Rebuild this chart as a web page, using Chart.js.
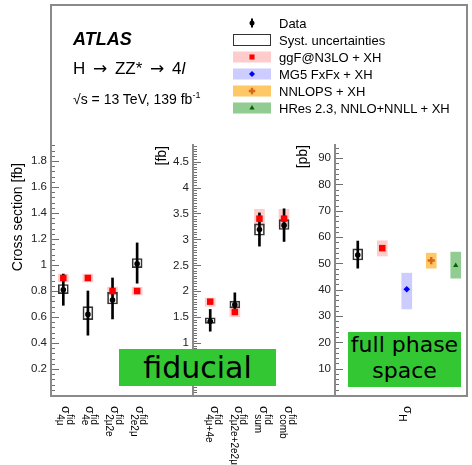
<!DOCTYPE html>
<html>
<head>
<meta charset="utf-8">
<title>H to ZZ* to 4l cross sections</title>
<script src="https://cdn.jsdelivr.net/npm/chart.js@4.4.0/dist/chart.umd.min.js"></script>
<style>
  body { margin: 0; background: #fff; }
  #wrap { position: relative; width: 472px; height: 465px; overflow: hidden; font-family: "Liberation Sans", Arial, sans-serif; }
  #wrap canvas { position: absolute; top: 0; }
  .frame { position: absolute; left: 50px; top: 4px; width: 418px; height: 393px; box-sizing: border-box; border: 2px solid #8a8a8a; }
  .txt { position: absolute; white-space: nowrap; color: #000; line-height: 1; }
  .arrow { font-family: "DejaVu Sans", sans-serif; margin: 0 3px; }
  .leg { font-size: 13px; left: 279px; }
  .tag { position: absolute; background: #34c734; color: #000; font-family: "DejaVu Sans", sans-serif; text-align: center; }
</style>
</head>
<body>
<div id="wrap">
  <div class="frame"></div>
  <canvas id="legendMarks" width="472" height="140" style="left:0;width:472px;height:140px"></canvas>
  <canvas id="panelChan" width="193" height="465" style="left:0;width:193px;height:465px"></canvas>
  <canvas id="panelSum" width="185" height="465" style="left:150px;width:185px;height:465px"></canvas>
  <canvas id="panelTotal" width="182" height="465" style="left:290px;width:182px;height:465px"></canvas>

  <div class="txt" style="left:73px;top:29px;font:italic bold 18px 'Liberation Sans', Arial, sans-serif">ATLAS</div>
  <div class="txt" style="left:73px;top:60px;font-size:17px">H <span class="arrow">→</span> ZZ* <span class="arrow">→</span> 4<i>l</i></div>
  <div class="txt" style="left:73px;top:92px;font-size:14px">√s = 13 TeV, 139 fb<span style="font-size:9px;position:relative;top:-6px">-1</span></div>
  <div id="legendText"></div>

  <div class="tag" style="left:119px;top:349px;width:157px;height:37px;font-size:30px;line-height:37px">fiducial</div>
  <div class="tag" style="left:348px;top:332px;width:113px;height:55px;font-size:22px;line-height:26px">full phase<br>space</div>
</div>

<script>
// Fiducial cross sections per decay channel [fb]
const chanLabels = ["4μ", "4e", "2μ2e", "2e2μ"];
const chanData = [0.81, 0.62, 0.73, 1.01];
const chanStatLo = [0.69, 0.46, 0.585, 0.86];
const chanStatHi = [0.93, 0.80, 0.90, 1.17];
const chanSystLo = [0.78, 0.58, 0.70, 0.98];
const chanSystHi = [0.85, 0.68, 0.79, 1.05];
const chanGgf = [0.90, 0.90, 0.80, 0.80];
const chanGgfLo = [0.87, 0.87, 0.77, 0.77];
const chanGgfHi = [0.93, 0.93, 0.83, 0.83];

// Combined fiducial cross sections [fb]
const sumLabels = ["4μ+4e", "2μ2e+2e2μ", "sum", "comb"];
const sumData = [1.42, 1.74, 3.19, 3.27];
const sumStatLo = [1.23, 1.58, 2.87, 2.96];
const sumStatHi = [1.65, 1.97, 3.51, 3.59];
const sumSystLo = [1.38, 1.68, 3.08, 3.19];
const sumSystHi = [1.49, 1.81, 3.30, 3.38];
const sumGgf = [1.80, 1.60, 3.40, 3.40];
const sumGgfLo = [1.71, 1.51, 3.24, 3.24];
const sumGgfHi = [1.87, 1.70, 3.58, 3.58];

// Total cross section [pb]
const totalLabel = "H";
const totalData = [53.2];
const totalStatLo = [48.2];
const totalStatHi = [58.5];
const totalSystLo = [51.3];
const totalSystHi = [55.5];
const modelNames = ["ggF@N3LO + XH", "MG5 FxFx + XH", "NNLOPS + XH", "HRes 2.3, NNLO+NNLL + XH"];
const modelTotal = [55.8, 40.2, 51.1, 49.2];
const modelTotalLo = [52.8, 32.7, 48.2, 44.4];
const modelTotalHi = [58.6, 46.3, 53.9, 54.3];

// Marker and band looks for each prediction
const modelStyles = [
  { band: "#ffcccc", color: "#ff0000", pointStyle: "rect", radius: 4.6, legendRadius: 3.6, line: 0 },
  { band: "#ccccff", color: "#0000ff", pointStyle: "rectRot", radius: 3.3, legendRadius: 3, line: 0 },
  { band: "#fdc865", color: "#d9661a", pointStyle: "cross", radius: 3.6, legendRadius: 3.2, line: 2.4 },
  { band: "#92cc92", color: "#006400", pointStyle: "triangle", radius: 3, legendRadius: 3, line: 0 }
];

Chart.defaults.font.family = "'Liberation Sans', Arial, sans-serif";

// inward ROOT style ticks on the y axis
const rootTicks = {
  id: "rootTicks",
  beforeDatasetsDraw(chart, args, opts) {
    const y = chart.scales.y, area = chart.chartArea, ctx = chart.ctx;
    ctx.save();
    ctx.strokeStyle = "#707070";
    ctx.lineWidth = 1;
    ctx.beginPath();
    const n = Math.floor(y.max / opts.minor + 1e-6);
    for (let i = 1; i <= n; i++) {
      const v = i * opts.minor;
      const r = v / opts.major;
      const major = Math.abs(r - Math.round(r)) < 1e-6;
      const py = Math.round(y.getPixelForValue(v)) + 0.5;
      ctx.moveTo(area.left + 1, py);
      ctx.lineTo(area.left + (major ? 8 : 4), py);
    }
    ctx.stroke();
    ctx.restore();
  }
};

// rotated sigma labels under each slot
const sigmaLabels = {
  id: "sigmaLabels",
  afterDraw(chart, args, opts) {
    const x = chart.scales.x, ctx = chart.ctx;
    opts.items.forEach((it) => {
      const px = x.getPixelForValue(it.x) + opts.shift;
      ctx.save();
      ctx.translate(px, 406);
      ctx.rotate(Math.PI / 2);
      ctx.fillStyle = "#000";
      ctx.textBaseline = "middle";
      ctx.font = "12.5px 'Liberation Sans', Arial, sans-serif";
      ctx.fillText("σ", 0, 0);
      const w = ctx.measureText("σ").width + 0.5;
      ctx.font = "10px 'Liberation Sans', Arial, sans-serif";
      if (it.sup) ctx.fillText(it.sup, w, -4);
      ctx.fillText(it.sub, w, 5.5);
      ctx.restore();
    });
  }
};

// y axis title, reading upwards, ending at the top
const axisTitle = {
  id: "axisTitle",
  afterDraw(chart, args, opts) {
    const ctx = chart.ctx;
    ctx.save();
    ctx.translate(opts.x, opts.y);
    ctx.rotate(-Math.PI / 2);
    ctx.font = "14px 'Liberation Sans', Arial, sans-serif";
    ctx.fillStyle = "#000";
    ctx.textAlign = "right";
    ctx.textBaseline = "middle";
    ctx.fillText(opts.text, 0, 0);
    ctx.restore();
  }
};

function rangeBars(xs, lo, hi, style) {
  return Object.assign({
    type: "bar",
    grouped: false,
    borderSkipped: false,
    data: xs.map((x, i) => ({ x: x, y: [lo[i], hi[i]] }))
  }, style);
}

function markers(xs, ys, style) {
  return Object.assign({
    type: "scatter",
    data: xs.map((x, i) => ({ x: x, y: ys[i] }))
  }, style);
}

const systStyle = { backgroundColor: "rgba(0,0,0,0)", borderColor: "#333", borderWidth: 1, barThickness: 10, order: 4 };
const statStyle = { backgroundColor: "#000", borderWidth: 0, barThickness: 2, order: 3 };
const dataStyle = { pointStyle: "circle", pointRadius: 2.8, pointBackgroundColor: "#000", pointBorderWidth: 0, order: 1 };

function measurement(xs, val, statLo, statHi, systLo, systHi) {
  return [
    rangeBars(xs, systLo, systHi, systStyle),
    rangeBars(xs, statLo, statHi, statStyle),
    markers(xs, val, dataStyle)
  ];
}

function prediction(xs, val, lo, hi, st) {
  return [
    rangeBars(xs, lo, hi, { backgroundColor: st.band, borderWidth: 0, barThickness: 10, order: 6 }),
    markers(xs, val, {
      pointStyle: st.pointStyle, pointRadius: st.radius,
      pointBackgroundColor: st.color, pointBorderColor: st.color,
      pointBorderWidth: st.line, order: 2
    })
  ];
}

function makePanel(id, cfg) {
  return new Chart(document.getElementById(id), {
    type: "bar",
    data: { datasets: cfg.datasets },
    options: {
      responsive: false,
      animation: false,
      devicePixelRatio: 1,
      events: [],
      layout: { padding: { left: 0, top: 145, right: cfg.padRight, bottom: 70 }, autoPadding: false },
      plugins: {
        legend: { display: false },
        tooltip: { enabled: false },
        rootTicks: { major: cfg.major, minor: cfg.minor },
        sigmaLabels: { items: cfg.labels, shift: cfg.labelShift },
        axisTitle: cfg.title
      },
      scales: {
        x: { type: "linear", display: false, min: cfg.xMin, max: cfg.xMax, offset: false },
        y: {
          type: "linear",
          position: "left",
          min: 0,
          max: cfg.yMax,
          afterFit(scale) { scale.width = cfg.axisWidth; },
          grid: { display: false, drawTicks: false },
          border: { display: true, color: "#8a8a8a", width: 2 },
          ticks: {
            stepSize: cfg.major,
            includeBounds: false,
            padding: 4,
            color: "#222",
            font: { size: 11.5 },
            callback: (v) => (v === 0 ? "" : String(Math.round(v * 100) / 100))
          }
        }
      }
    },
    plugins: [rootTicks, sigmaLabels, axisTitle]
  });
}

const slots4 = chanLabels.map((_, i) => i + 0.5);

// left panel: single channels
makePanel("panelChan", {
  datasets: [].concat(
    prediction(slots4, chanGgf, chanGgfLo, chanGgfHi, modelStyles[0]),
    measurement(slots4, chanData, chanStatLo, chanStatHi, chanSystLo, chanSystHi)
  ),
  labels: chanLabels.map((s, i) => ({ x: slots4[i], sup: "fid", sub: s })),
  labelShift: 2,
  xMin: 0, xMax: 5.77, yMax: 1.923, major: 0.2, minor: 0.04,
  axisWidth: 51, padRight: 0,
  title: { text: "Cross section [fb]", x: 18, y: 163 }
});

// middle panel: combined channels
const slotsSum = sumLabels.map((_, i) => i + 0.5);
makePanel("panelSum", {
  datasets: [].concat(
    prediction(slotsSum, sumGgf, sumGgfLo, sumGgfHi, modelStyles[0]),
    measurement(slotsSum, sumData, sumStatLo, sumStatHi, sumSystLo, sumSystHi)
  ),
  labels: sumLabels.map((s, i) => ({ x: slotsSum[i], sup: "fid", sub: s })),
  labelShift: 4,
  xMin: -0.2, xMax: 5.57, yMax: 4.82, major: 0.5, minor: 0.05,
  axisWidth: 43, padRight: 0,
  title: { text: "[fb]", x: 12, y: 146 }
});

// right panel: total cross section and the four predictions
const totalDatasets = measurement([0.5], totalData, totalStatLo, totalStatHi, totalSystLo, totalSystHi);
modelNames.forEach((name, i) => {
  const x = [i + 1.5];
  totalDatasets.push(...prediction(x, [modelTotal[i]], [modelTotalLo[i]], [modelTotalHi[i]], modelStyles[i]));
});
makePanel("panelTotal", {
  datasets: totalDatasets,
  labels: [{ x: 2.5, sup: "", sub: totalLabel }],
  labelShift: 0.5,
  xMin: -0.43, xMax: 4.96, yMax: 95, major: 10, minor: 2,
  axisWidth: 45, padRight: 5,
  title: { text: "[pb]", x: 13, y: 145 }
});

// legend
function drawLegend() {
  const ctx = document.getElementById("legendMarks").getContext("2d");
  const drawPoint = Chart.helpers.drawPoint;
  const mx = 252, rowY = (k) => 23 + 17 * k;
  const names = ["Data", "Syst. uncertainties"].concat(modelNames);

  // data: dot with a short error bar
  ctx.fillStyle = "#000";
  ctx.fillRect(mx - 1, rowY(0) - 4.5, 2, 9);
  ctx.beginPath();
  ctx.arc(mx, rowY(0), 2.5, 0, Math.PI * 2);
  ctx.fill();

  // syst box
  ctx.strokeStyle = "#333";
  ctx.lineWidth = 1;
  ctx.strokeRect(233.5, rowY(1) - 5.5, 37, 11);

  modelStyles.forEach((st, i) => {
    const y = rowY(i + 2);
    ctx.fillStyle = st.band;
    ctx.fillRect(233, y - 5.5, 38, 11);
    ctx.fillStyle = st.color;
    ctx.strokeStyle = st.color;
    ctx.lineWidth = st.line;
    drawPoint(ctx, { pointStyle: st.pointStyle, radius: st.legendRadius, rotation: 0, borderWidth: st.line }, mx, y);
  });

  const holder = document.getElementById("legendText");
  names.forEach((name, k) => {
    const d = document.createElement("div");
    d.className = "txt leg";
    d.style.top = (rowY(k) - 6.4) + "px";
    d.textContent = name;
    holder.appendChild(d);
  });
}

drawLegend();
</script>
</body>
</html>
